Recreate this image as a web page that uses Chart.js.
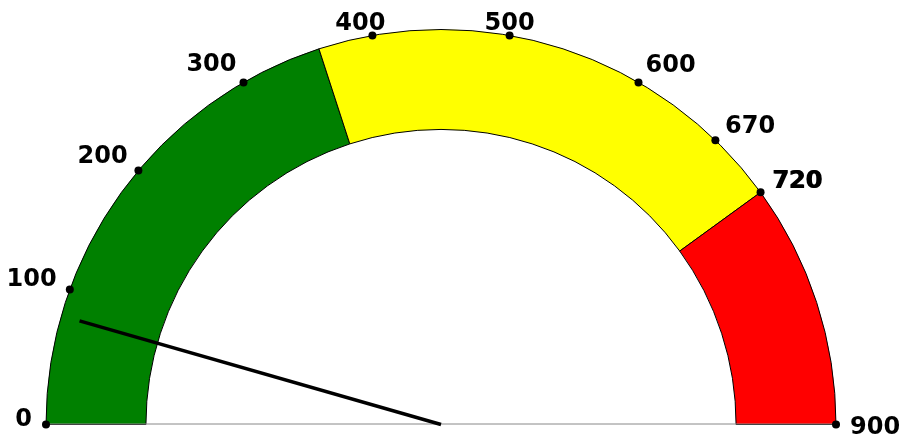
<!DOCTYPE html>
<html>
<head>
<meta charset="utf-8">
<script src="https://cdn.jsdelivr.net/npm/chart.js@4.4.1/dist/chart.umd.min.js"></script>
<style>
  html, body { margin: 0; padding: 0; background: #ffffff; }
  #wrap { width: 904px; height: 442px; position: relative; }
</style>
</head>
<body>
<div id="wrap"><canvas id="gauge-chart"></canvas></div>
<script>
// gauge bands (size of each band, in gauge units)
var band_sizes = [360, 360, 180];
var band_colors = ["#008000", "#ffff00", "#ff0000"];

// tick values shown round the rim
var tick_values = [0, 100, 200, 300, 400, 500, 600, 670, 720, 900];
var tick_labels = ["0", "100", "200", "300", "400", "500", "600", "670", "720", "900"];

// needle value
var needle_value = 80;

var gauge_max = band_sizes.reduce(function (a, b) { return a + b; }, 0);

// plugin that draws the rim ticks, labels and the needle on top of the doughnut
var gaugeExtras = {
    id: "gaugeExtras",
    afterDatasetsDraw: function (chart) {
        let meta = chart.getDatasetMeta(0);
        let arc = meta.data[0];
        let cx = arc.x;
        let cy = arc.y;
        let R = arc.outerRadius;
        let ctx = chart.ctx;

        function angleOf(v) {
            return Math.PI + (v / gauge_max) * Math.PI;
        }

        ctx.save();

        //base line across the bottom
        ctx.strokeStyle = "#888888";
        ctx.lineWidth = 1;
        ctx.beginPath();
        ctx.moveTo(cx - R, cy - 0.5);
        ctx.lineTo(cx + R, cy - 0.5);
        ctx.stroke();

        //dots and labels
        ctx.font = "bold 24px 'DejaVu Sans', Verdana, sans-serif";
        ctx.textBaseline = "alphabetic";
        tick_values.forEach(function (v, i) {
            let a = angleOf(v);
            let ux = Math.cos(a);
            let uy = Math.sin(a);
            let px = cx + R * ux;
            let py = cy + R * uy;

            ctx.fillStyle = "#000000";
            ctx.beginPath();
            ctx.arc(px, py, 4, 0, Math.PI * 2);
            ctx.fill();

            let lx = cx + (R + 14) * ux;
            let ly = cy + (R + 14) * uy;
            if (Math.abs(ux) < 0.3) {
                // labels near the top sit above their dot
                ctx.textAlign = "center";
                lx = px - (ux < 0 ? 12 : 0);
            } else if (ux < 0) {
                ctx.textAlign = "right";
                ly += 1;
            } else {
                ctx.textAlign = "left";
                ly += 9 * (1 - Math.abs(uy));
            }
            // keep labels inside the top margin
            ly = Math.max(ly, 30);
            ctx.fillText(tick_labels[i], lx, ly);
            // the band edge label is printed twice in the original
            if (v === 720) {
                ctx.fillText(tick_labels[i], lx + 1, ly);
            }
        });

        //needle
        let na = angleOf(needle_value);
        ctx.strokeStyle = "#000000";
        ctx.lineWidth = 3.5;
        ctx.lineCap = "butt";
        ctx.beginPath();
        ctx.moveTo(cx, cy);
        ctx.lineTo(cx + R * 0.952 * Math.cos(na), cy + R * 0.952 * Math.sin(na));
        ctx.stroke();

        ctx.restore();
    }
};

let gauge_ctx = document.getElementById("gauge-chart");

let gauge_chart = new Chart(gauge_ctx, {
    type: "doughnut",
    data: {
        labels: ["low", "mid", "high"],
        datasets: [{
            data: band_sizes,
            backgroundColor: band_colors,
            borderColor: "#000000",
            borderWidth: 1,
            hoverOffset: 0,
            offset: 0
        }]
    },
    options: {
        responsive: true,
        maintainAspectRatio: false,
        animation: false,
        events: [],
        rotation: -90,
        circumference: 180,
        cutout: "74.7%",
        layout: {
            padding: { left: 45, right: 67, top: 29, bottom: 17 }
        },
        plugins: {
            legend: { display: false },
            tooltip: { enabled: false }
        }
    },
    plugins: [gaugeExtras]
});
</script>
</body>
</html>
